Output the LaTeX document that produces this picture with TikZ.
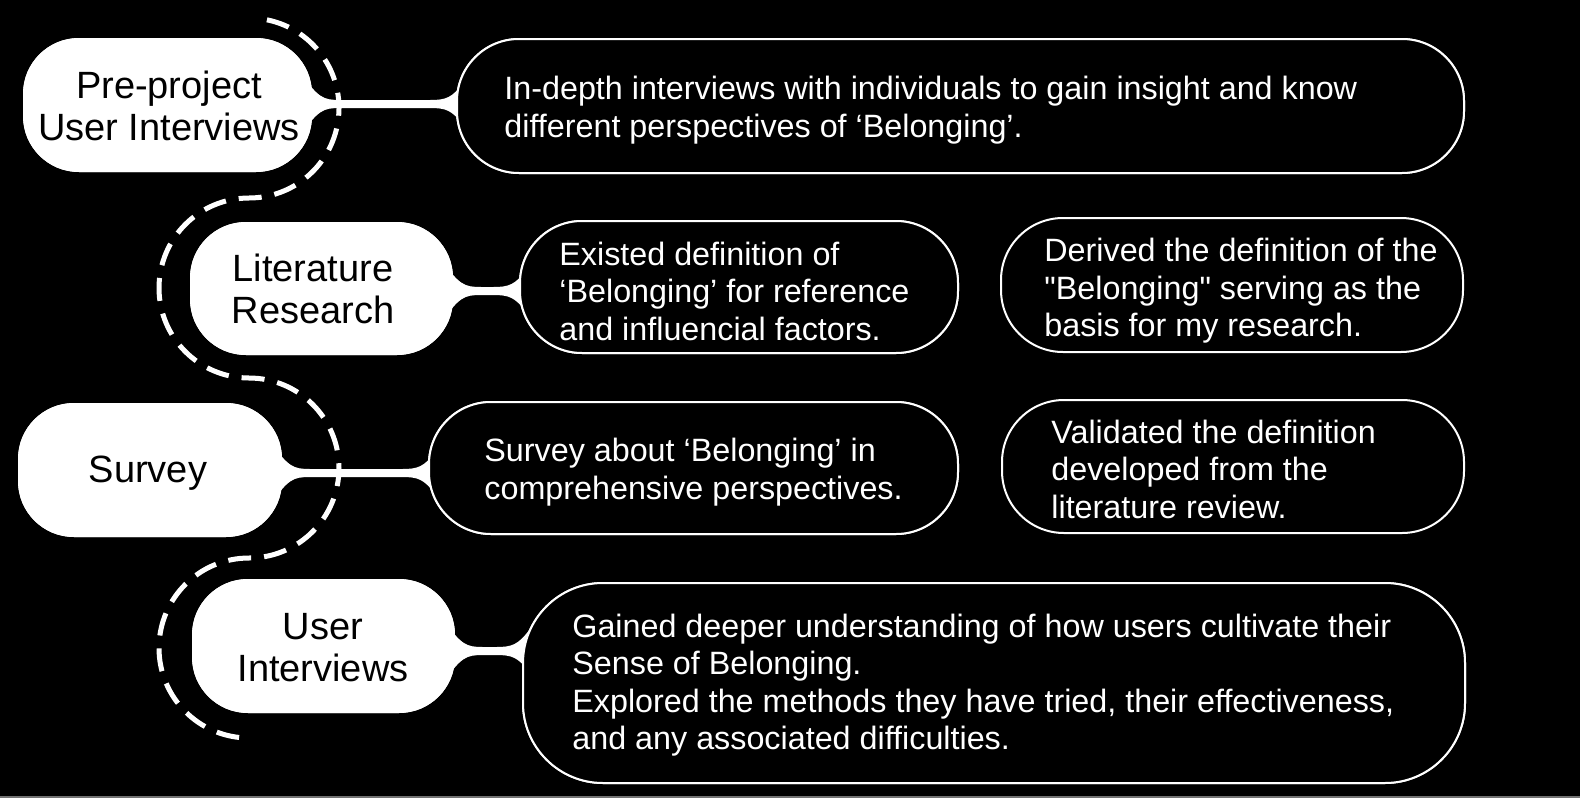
\documentclass[tikz,border=0pt]{standalone}
\usepackage{fontspec}
\setmainfont{Liberation Sans}
% same family without TeX ligature mapping, so a typed " stays straight
\newfontfamily\notefont{Liberation Sans}
\usetikzlibrary{calc}

% white bar joining a stage to its note, flaring at both ends
\newcommand{\linkbar}[2]{%
  \fill[white]
    ($(#1)+(-14,-34)$) .. controls ($(#1)+(6,-6)$) and ($(#1)+(10,-4)$) .. ($(#1)+(28,-4)$)
    -- ($(#2)+(-26,-4)$) .. controls ($(#2)+(-10,-4)$) and ($(#2)+(-4,-6)$) .. ($(#2)+(8,-22)$)
    -- ($(#2)+(8,22)$) .. controls ($(#2)+(-4,6)$) and ($(#2)+(-10,4)$) .. ($(#2)+(-26,4)$)
    -- ($(#1)+(28,4)$) .. controls ($(#1)+(10,4)$) and ($(#1)+(6,6)$) .. ($(#1)+(-14,34)$)
    -- cycle;}

\begin{document}
\begin{tikzpicture}[x=0.5pt,y=-0.5pt,
  stage/.style={draw=none, fill=white, rounded corners=28pt, inner sep=0pt},
  note/.style={draw=white, line width=1pt, fill=black, rounded corners=31pt, inner sep=0pt},
  stagetext/.style={text=black, align=center, inner sep=0pt,
    font=\fontsize{19pt}{21pt}\selectfont},
  notetext/.style={text=white, align=left, anchor=west, inner sep=0pt,
    font=\notefont\fontsize{16.15pt}{18.75pt}\selectfont},
  trail/.style={draw=white, line width=2.5pt, dash pattern=on 11.5pt off 6.5pt}
]
\useasboundingbox (0,0) rectangle (1580,798);
\fill[black] (0,0) rectangle (1580,798);
\fill[black!55] (0,796) rectangle (1580,798);

% stages (left column)
\node[stage, minimum width=144.5pt, minimum height=67pt]   (n1) at (167.5,105) {};
\node[stage, minimum width=131.5pt, minimum height=66.5pt] (n2) at (321.5,288.5) {};
\node[stage, minimum width=132pt,   minimum height=67pt]   (n3) at (150,470) {};
\node[stage, minimum width=131.5pt, minimum height=67pt]   (n4) at (323.5,646) {};

% notes (right column)
\node[note, minimum width=503.5pt, minimum height=67pt]   (r1)  at (960.5,106) {};
\node[note, minimum width=219pt,   minimum height=66pt]   (r2a) at (739,287) {};
\node[note, minimum width=231pt,   minimum height=67pt]   (r2b) at (1232,285) {};
\node[note, minimum width=264.5pt, minimum height=66pt]   (r3a) at (693.5,468) {};
\node[note, minimum width=231pt,   minimum height=66.5pt] (r3b) at (1233,466.5) {};
\node[note, minimum width=471pt,   minimum height=100pt, rounded corners=40pt] (r4) at (994,683) {};

% connector end points
\coordinate (a1) at ($(n1.east)+(0,-1)$);  \coordinate (b1) at (r1.west |- a1);
\coordinate (a2) at ($(n2.east)+(0,2.5)$); \coordinate (b2) at (r2a.west |- a2);
\coordinate (a3) at ($(n3.east)+(0,3)$);   \coordinate (b3) at (r3a.west |- a3);
\coordinate (a4) at ($(n4.east)+(0,5)$);   \coordinate (b4) at (r4.west |- a4);

\linkbar{a1}{b1}
\linkbar{a2}{b2}
\linkbar{a3}{b3}
\linkbar{a4}{b4}

% redraw the shapes over the bar ends
\node[stage, minimum width=144.5pt, minimum height=67pt]   at (n1) {};
\node[stage, minimum width=131.5pt, minimum height=66.5pt] at (n2) {};
\node[stage, minimum width=132pt,   minimum height=67pt]   at (n3) {};
\node[stage, minimum width=131.5pt, minimum height=67pt]   at (n4) {};
\node[note, minimum width=503.5pt, minimum height=67pt]   at (r1) {};
\node[note, minimum width=219pt,   minimum height=66pt]   at (r2a) {};
\node[note, minimum width=264.5pt, minimum height=66pt]   at (r3a) {};
\node[note, minimum width=471pt,   minimum height=100pt, rounded corners=40pt] at (r4) {};

% winding dashed trail through the stages
\coordinate (k1) at (249,108);
\draw[trail] ($(k1)+(78.5:45pt)$)
  arc[start angle=78.5, end angle=-90, radius=45pt]
  arc[start angle=90, end angle=270, radius=45pt]
  arc[start angle=90, end angle=-90, radius=45pt]
  arc[start angle=90, end angle=270, radius=45pt];

% stage labels
\node[stagetext] (l1) at (169,106) {Pre-project\\User Interviews};
\node[stagetext] (l2) at (313,289) {Literature\\Research};
\node[stagetext] (l3) at (148,473) {Survey};
\node[stagetext] (l4) at (323,648) {User\\Interviews};

% note texts
\node[notetext] (t1) at (504,110) {In-depth interviews with individuals to gain insight and know\\different perspectives of ‘Belonging’.};
\node[notetext] (t2a) at (559,291) {Existed definition of\\‘Belonging’ for reference\\and influencial factors.};
\node[notetext] (t2b) at (1044,291) {Derived the definition of the\\"Belonging" serving as the\\basis for my research.};
\node[notetext] (t3a) at (484,472) {Survey about ‘Belonging’ in\\comprehensive perspectives.};
\node[notetext] (t3b) at (1051,469) {Validated the definition\\developed from the\\literature review.};
\node[notetext] (t4) at (572,685) {Gained deeper understanding of how users cultivate their\\Sense of Belonging.\\Explored the methods they have tried, their effectiveness,\\and any associated difficulties.};
\end{tikzpicture}
\end{document}
